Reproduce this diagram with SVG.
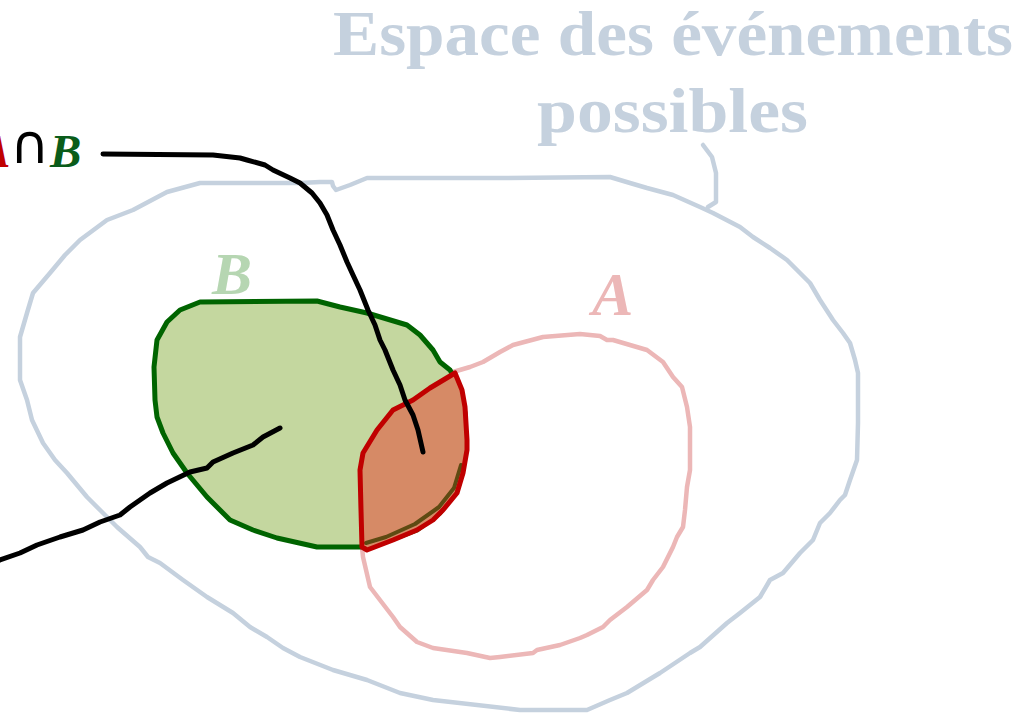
<svg xmlns="http://www.w3.org/2000/svg" width="1034" height="714" viewBox="0 0 1034 714">
<style>
.line{stroke-linejoin:round;stroke-linecap:round}
.nofill{fill:none}
.space{stroke:#c5d1de;stroke-width:4.5;fill:none}
.setA{stroke:#ecb7b7;stroke-width:4.5;fill:none}
.title{font-family:"Liberation Serif",serif;font-weight:bold;fill:#c5d1de;font-size:63px}
.lbl{font-family:"Liberation Serif",serif;font-weight:bold;font-style:italic}
</style>
<rect width="1034" height="714" fill="#ffffff"/>
<g id="title">
<text class="title" x="333" y="55" textLength="680" lengthAdjust="spacingAndGlyphs">Espace des événements</text>
<text class="title" x="537" y="132" textLength="271" lengthAdjust="spacingAndGlyphs">possibles</text>
</g>
<g id="space">
<path class="line space" d="M200,183 L300,183 L320,182 L332,182 L333,186 L336,190 L350,185 L367,178 L500,178 L610,177 L630,183 L647,188 L673,195 L700,207 L713,213 L740,227 L753,237 L770,248 L787,260 L800,273 L810,283 L820,300 L833,320 L843,333 L850,343 L855,360 L858,373 L858,400 L858,423 L857,460 L850,480 L845,495 L840,500 L830,513 L820,523 L813,540 L800,553 L783,573 L770,580 L760,597 L740,613 L727,623 L700,647 L690,653 L660,673 L655,676 L627,693 L610,700 L587,710 L520,710 L433,700 L400,693 L367,680 L333,670 L300,657 L283,648 L267,637 L250,627 L233,613 L207,597 L183,580 L160,563 L148,557 L140,547 L117,527 L100,510 L87,497 L67,473 L55,460 L43,443 L32,420 L27,400 L20,380 L20,337 L27,313 L33,293 L50,273 L65,255 L80,240 L107,220 L133,210 L167,192 Z"/>
<path class="line space" d="M703,145 L712,157 L716,173 L716,202 L708,207"/>
</g>
<g id="setA">
<path class="line setA" d="M453,372 L470,367 L483,362 L500,352 L513,345 L543,337 L580,334 L600,336 L607,340 L613,340 L647,350 L663,362 L673,377 L682,387 L687,407 L690,427 L690,470 L687,487 L685,510 L683,527 L677,537 L673,547 L663,567 L653,580 L647,590 L627,607 L610,620 L603,627 L587,635 L580,638 L560,645 L537,650 L533,653 L500,657 L490,658 L467,653 L433,648 L417,642 L400,627 L393,617 L370,587 L363,557 L362,547"/>
<text class="lbl" x="592" y="315" font-size="62" fill="#ecb7b7">A</text>
</g>
<g id="setB">
<path class="line" fill="#c4d79f" stroke="#006400" stroke-width="5" d="M200,302 L317,301 L340,307 L367,313 L407,325 L420,335 L433,350 L440,362 L450,370 L460,387 L465,413 L465,440 L463,460 L457,487 L440,513 L417,530 L383,543 L360,547 L317,547 L277,538 L253,530 L230,520 L207,497 L187,473 L173,453 L163,433 L157,417 L155,400 L154,367 L157,340 L167,322 L180,310 Z"/>
<text class="lbl" x="212" y="294" font-size="60" fill="#b6d6b2">B</text>
</g>
<g id="intersection">
<path class="line" fill="#d68a66" stroke="none" d="M455,373 L462,390 L465,407 L467,440 L467,450 L463,473 L457,493 L443,510 L433,520 L417,530 L393,540 L367,550 L362,547 L361,510 L360,470 L363,453 L377,430 L393,410 L413,400 L430,388 Z"/>
<path class="line nofill" stroke="#5e4a12" stroke-width="4" d="M461,465 L454,488 L439,507 L415,524 L386,537 L366,543"/>
<path class="line nofill" stroke="#c00000" stroke-width="5" d="M455,373 L462,390 L465,407 L467,440 L467,450 L463,473 L457,493 L443,510 L433,520 L417,530 L393,540 L367,550 L362,547 L361,510 L360,470 L363,453 L377,430 L393,410 L413,400 L430,388 Z"/>
</g>
<g id="label-AnB">
<text y="167" font-size="47"><tspan class="lbl" x="-21" fill="#c00000">A</tspan><tspan x="10" y="163" font-family="DejaVu Sans, sans-serif" font-size="54" fill="#000000">∩</tspan><tspan class="lbl" x="50" y="167" fill="#0a5c1a">B</tspan></text>
</g>
<g id="connectors">
<path class="line nofill" stroke="#000000" stroke-width="5" d="M103,154 L213,155 L240,158 L247,160 L265,165 L273,170 L290,178 L300,183 L312,193 L320,203 L327,215 L333,230 L340,245 L347,262 L353,275 L360,290 L368,310 L375,325 L380,340 L385,350 L393,370 L400,385 L405,400 L413,415 L418,430 L423,452"/>
<path class="line nofill" stroke="#000000" stroke-width="5" d="M280,428 L263,437 L253,445 L233,453 L213,462 L207,468 L190,472 L167,483 L150,493 L130,507 L120,515 L100,522 L83,530 L60,537 L37,545 L20,553 L0,560 L-5,562"/>
</g>
</svg>
